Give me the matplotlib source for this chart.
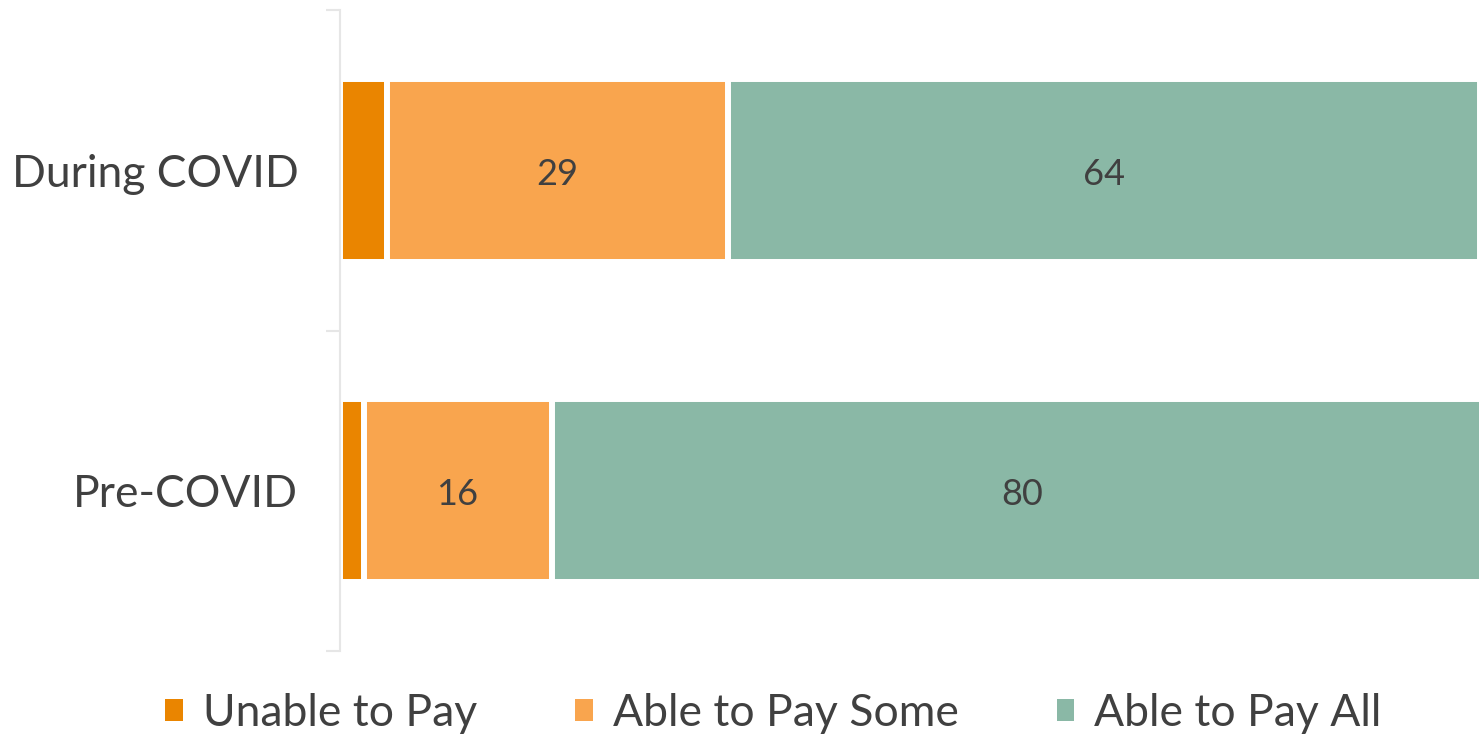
import matplotlib.pyplot as plt
from matplotlib.patches import Patch

plt.rcParams["font.family"] = ["Lato", "DejaVu Sans"]

categories = ["Pre-COVID", "During COVID"]
series = ["Unable to Pay", "Able to Pay Some", "Able to Pay All"]
unable = [2, 4]
some = [16, 29]
pay_all = [80, 64]
colors = ["#EA8500", "#F9A54E", "#8AB8A6"]
text_color = "#404040"


def main():
    fig = plt.figure(figsize=(14.79, 7.37), dpi=100)
    ax = fig.add_axes([340 / 1479, 1 - 651 / 737, 1 - 340 / 1479, 641 / 737])

    y = list(range(len(categories)))
    left = [0] * len(categories)
    for name, vals, c in zip(series, [unable, some, pay_all], colors):
        ax.barh(y, vals, left=left, height=0.57, color=c,
                edgecolor="white", linewidth=4.3, label=name)
        # only the two wider segments carry a value label
        if name != "Unable to Pay":
            for yi, l, v in zip(y, left, vals):
                ax.annotate(str(v), xy=(l + v / 2, yi), xytext=(0, -3),
                            textcoords="offset points", ha="center",
                            va="center", fontsize=26, color=text_color)
        left = [l + v for l, v in zip(left, vals)]

    ax.set_xlim(0, 96.9)
    ax.set_ylim(-0.5, 1.5)
    ax.set_xticks([])
    ax.set_yticks([-0.5, 0.5, 1.5], minor=False)
    ax.set_yticklabels([])
    ax.set_yticks([0, 1], minor=True)
    ax.set_yticklabels(categories, minor=True, fontsize=32, color=text_color)
    ax.tick_params(axis="y", which="major", length=10, width=1.5, color="#E6E6E6")
    ax.tick_params(axis="y", which="minor", length=0, pad=30)

    for side in ["top", "right", "bottom"]:
        ax.spines[side].set_visible(False)
    ax.spines["left"].set_color("#E6E6E6")
    ax.spines["left"].set_linewidth(1.5)

    handles = [Patch(facecolor=c, edgecolor="none") for c in colors]
    fig.legend(handles, series, loc="lower center", ncol=3, frameon=False,
               fontsize=32, labelcolor=text_color, handlelength=0.4,
               handleheight=0.4, handletextpad=0.45, columnspacing=2.2,
               bbox_to_anchor=(0.523, -0.05))

    fig.savefig("out.png", dpi=100)


if __name__ == "__main__":
    main()
